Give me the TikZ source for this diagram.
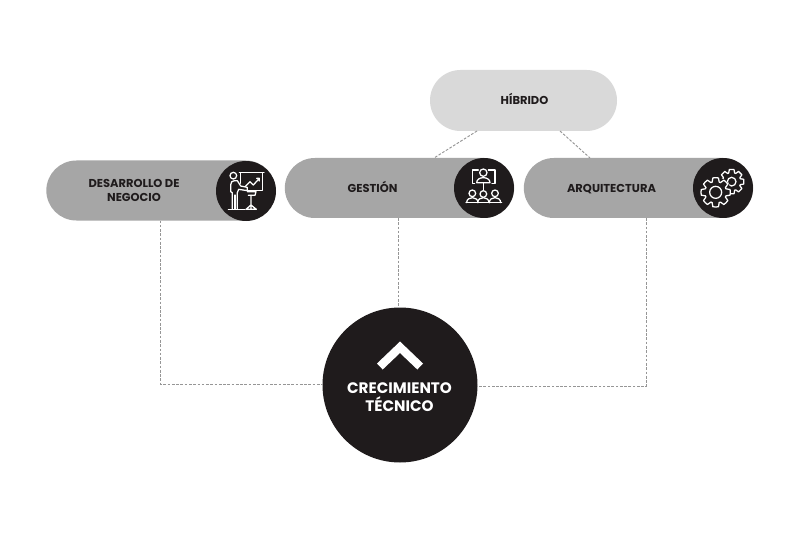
\documentclass[tikz,border=0pt]{standalone}
\usepackage{fontspec}
\setmainfont{Poppins}
\usetikzlibrary{shapes.misc}
\definecolor{pillgray}{HTML}{A6A6A6}
\definecolor{lightpill}{HTML}{D9D9D9}
\definecolor{inkblack}{HTML}{1F1B1C}
\definecolor{dashgray}{HTML}{969696}
\tikzset{
  pill/.style={rounded rectangle,fill=pillgray,draw=none,inner sep=0pt,outer sep=0pt,minimum width=172pt,minimum height=45pt},
  hibpill/.style={pill,fill=lightpill,minimum width=140.25pt,minimum height=45.75pt},
  iconcirc/.style={circle,fill=inkblack,draw=none,inner sep=0pt,outer sep=0pt,minimum size=45pt},
  bigcirc/.style={circle,fill=inkblack,draw=none,inner sep=0pt,outer sep=0pt,minimum size=116.25pt},
  lab/.style={font=\bfseries\fontsize{8.6}{10.4}\selectfont,text=inkblack,align=center,inner sep=0pt},
  biglab/.style={font=\bfseries\fontsize{11.4}{13.4}\selectfont,text=white,align=center,inner sep=0pt},
  conn/.style={draw=dashgray,line width=0.7pt,dash pattern=on 2pt off 1.2pt},
  ico/.style={draw=white,line width=0.95pt,line cap=round,line join=round},
}
\newcommand{\gearshape}[4]{% cx,cy,outer R,inner hole
  \foreach \a in {0,45,...,315}{
    \pgfmathsetmacro{\rin}{#3*0.74}
    \draw[ico] ({#1+\rin*cos(\a-19)},{#2+\rin*sin(\a-19)})
      -- ({#1+#3*cos(\a-11)},{#2+#3*sin(\a-11)})
      arc[start angle=\a-11,end angle=\a+11,radius=#3*1]
      -- ({#1+\rin*cos(\a+19)},{#2+\rin*sin(\a+19)})
      arc[start angle=\a+19,end angle=\a+26,radius=\rin];
  }
  \draw[ico] (#1,#2) circle[radius=#4];
}
\begin{document}
\begin{tikzpicture}[x=0.75pt,y=0.75pt]
\useasboundingbox (0,0) rectangle (800,533);
\fill[white] (0,0) rectangle (800,533);
\begin{scope}[yscale=-1,yshift=-533*0.75pt]
  \node[hibpill] (hib) at (523.5,100.5) {};
  \node[lab,anchor=base] (hibt) at (524.5,105) {HÍBRIDO};

  \node[pill] (des) at (161,190.5) {};
  \node[pill] (ges) at (399.5,188) {};
  \node[pill] (arq) at (638.5,188) {};

  \node[iconcirc] (desc) at (246,191) {};
  \node[iconcirc] (gesc) at (484,188) {};
  \node[iconcirc] (arqc) at (723,188) {};

  \node[lab] (dest) at (134,190.5) {DESARROLLO DE\\NEGOCIO};
  \node[lab,anchor=base] (gest) at (372.5,193) {GESTIÓN};
  \node[lab,anchor=base] (arqt) at (611.5,193) {ARQUITECTURA};

  \node[bigcirc] (crec) at (400,385) {};
  \node[biglab] (crect) at (399.5,397) {CRECIMIENTO\\TÉCNICO};

  % connectors
  \coordinate (h1) at (477,131);
  \coordinate (h2) at (560,131);
  \coordinate (g1) at (434,158);
  \coordinate (a1) at (590,158);
  \coordinate (dd) at (160.5,220.5);
  \coordinate (aa) at (646.5,218);
  \coordinate (cl) at (322.6,384);
  \coordinate (cr) at (477.4,386);
  \draw[conn] (h1) -- (g1);
  \draw[conn] (h2) -- (a1);
  \draw[conn] (dd) -- (dd |- cl) -- (cl);
  \draw[conn] (398.5,218) -- (398.5,307.5);
  \draw[conn] (aa) -- (aa |- cr) -- (cr);

  % chevron
  \fill[white] (400,341.5) -- (423,363.5) -- (417.3,369.5) -- (400,353) -- (382.7,369.5) -- (377,363.5) -- cycle;

  % presenter icon
  \begin{scope}[shift={(200,150)},x=0.25pt,y=0.25pt]
    \draw[ico] (100,77) circle[radius=10];
    \draw[ico] (97,176) -- (97,128) -- (92,125) -- (92,105) .. controls (92,96) and (96,92) .. (104,92) -- (112,92) -- (122,108) -- (142,112) -- (142,122) -- (116,118) -- (112,128) -- (112,176);
    \draw[ico] (105,135) -- (105,176);
    \draw[ico] (85,178) -- (135,178);
    \draw[ico] (118,68) -- (192,68);
    \draw[ico] (122,68) -- (122,100) (187,68) -- (187,121) -- (145,121);
    \draw[ico] (135,110) -- (150,95) -- (160,105) -- (178,85) (170,85) -- (178,85) -- (178,93);
    \draw[ico] (142,125) -- (168,125) -- (165,136) -- (145,136);
    \draw[ico] (153,136) -- (153,178) (138,178) -- (153,165) -- (169,178) -- (138,178);
  \end{scope}

  % meeting icon
  \begin{scope}[shift={(440,150)},x=0.25pt,y=0.25pt]
    \draw[ico] (130,68) circle[radius=11];
    \draw[ico] (110,98) -- (150,98) .. controls (150,78) and (110,78) .. (110,98) -- cycle;
    \draw[ico] (115,60) -- (97,60) -- (97,100) -- (104,100);
    \draw[ico] (145,60) -- (165,60) -- (165,100) -- (156,100);
    \draw[ico] (130,98) -- (130,122);
    \foreach \px/\py in {97/130,130/132,165/130}{
      \draw[ico] (\px,\py) circle[radius=10];
      \draw[ico] (\px-17,158) .. controls (\px-17,138) and (\px+17,138) .. (\px+17,158);
    }
    \draw[ico] (78,158) -- (185,158);
  \end{scope}

  % gears icon
  \begin{scope}[shift={(680,150)},x=0.25pt,y=0.25pt]
    \gearshape{155}{95}{37}{13}
    \fill[inkblack] (107,127) circle[radius=46];
    \gearshape{107}{127}{44}{18}
  \end{scope}
\end{scope}
\end{tikzpicture}
\end{document}
